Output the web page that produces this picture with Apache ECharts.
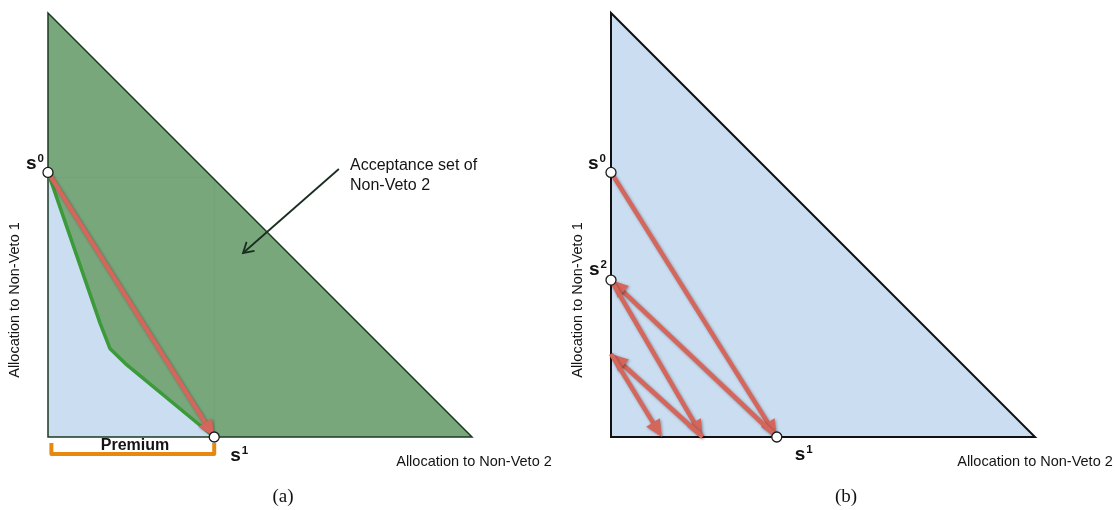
<!DOCTYPE html>
<html>
<head>
<meta charset="utf-8">
<script src="https://cdn.jsdelivr.net/npm/echarts@6/dist/echarts.min.js"></script>
<style>html,body{margin:0;padding:0;background:#fff}#c{width:1115px;height:510px}</style>
</head>
<body>
<div id="c"></div>
<script>
// ---- data (simplex coordinates: x = allocation to Non-Veto 2, y = allocation to Non-Veto 1) ----
const simplex = [[0, 1], [0, 0], [1, 0]];
const greenCurve = [[0, 0.624], [0.123, 0.268], [0.146, 0.209], [0.186, 0.170], [0.392, 0]];
const pointsA = [
  { name: '0', value: [0, 0.624] },
  { name: '1', value: [0.392, 0] }
];
const arrowsA = [[0, 0.624, 0.392, 0]];
const annotArrow = [[0.686, 0.632, 0.460, 0.434]];
const premiumBracket = [[0.008, -0.014], [0.008, -0.040], [0.392, -0.040], [0.392, -0.014]];
const guideA = [[0, 0.612], [0.392, 0.612], [0.392, 0]];
const pointsB = [
  { name: '0', value: [0, 0.624] },
  { name: '2', value: [0, 0.370] },
  { name: '1', value: [0.391, 0] }
];
const pathB = [[0, 0.624], [0.391, 0], [0, 0.370], [0.216, 0], [0, 0.196], [0.120, 0]];
const arrowsB = pathB.slice(1).map((p, i) => [pathB[i][0], pathB[i][1], p[0], p[1]]);

const labelOffsetsA = { '0': [-13, -9], '1': [25, 19] };
const labelOffsetsB = { '0': [-14, -9], '2': [-13, -10], '1': [27, 18] };

const RED = '#d5665c';
const FONT = '"Liberation Sans", Arial, sans-serif';

function polygonSeries(idx, pts, style, z) {
  return {
    type: 'custom', xAxisIndex: idx, yAxisIndex: idx, silent: true, clip: false, z: z,
    data: [pts[0]],
    renderItem: function (params, api) {
      return { type: 'polygon', shape: { points: pts.map(p => api.coord(p)) }, style: style };
    }
  };
}
function polylineSeries(idx, pts, style, z) {
  return {
    type: 'custom', xAxisIndex: idx, yAxisIndex: idx, silent: true, clip: false, z: z,
    data: [pts[0]],
    renderItem: function (params, api) {
      return { type: 'polyline', shape: { points: pts.map(p => api.coord(p)) }, style: style };
    }
  };
}
function arrowSeries(idx, data, opt, z) {
  return {
    type: 'custom', xAxisIndex: idx, yAxisIndex: idx, silent: true, clip: false, z: z,
    data: data,
    encode: { x: [0, 2], y: [1, 3] },
    renderItem: function (params, api) {
      const p1 = api.coord([api.value(0), api.value(1)]);
      const p2 = api.coord([api.value(2), api.value(3)]);
      const dx = p2[0] - p1[0], dy = p2[1] - p1[1];
      const len = Math.sqrt(dx * dx + dy * dy);
      const ux = dx / len, uy = dy / len;
      const nx = -uy, ny = ux;
      const hl = opt.headLen, hw = opt.headWidth;
      const base = [p2[0] - ux * hl, p2[1] - uy * hl];
      const lineEnd = opt.open ? p2 : [p2[0] - ux * hl * 0.6, p2[1] - uy * hl * 0.6];
      const shadow = opt.shadow ? { shadowBlur: 3, shadowColor: 'rgba(0,0,0,0.35)', shadowOffsetX: 1, shadowOffsetY: 1 } : {};
      const children = [{
        type: 'line',
        shape: { x1: p1[0], y1: p1[1], x2: lineEnd[0], y2: lineEnd[1] },
        style: Object.assign({ stroke: opt.color, lineWidth: opt.width }, shadow)
      }];
      if (opt.open) {
        children.push({
          type: 'polyline',
          shape: { points: [[base[0] + nx * hw, base[1] + ny * hw], p2, [base[0] - nx * hw, base[1] - ny * hw]] },
          style: { stroke: opt.color, lineWidth: opt.width, fill: null }
        });
      } else {
        children.push({
          type: 'polygon',
          shape: { points: [[base[0] + nx * hw, base[1] + ny * hw], p2, [base[0] - nx * hw, base[1] - ny * hw]] },
          style: Object.assign({ fill: opt.color }, shadow)
        });
      }
      return { type: 'group', children: children };
    }
  };
}
function pointSeries(idx, data, offsets) {
  return {
    type: 'scatter', xAxisIndex: idx, yAxisIndex: idx, silent: true, z: 20,
    symbol: 'circle', symbolSize: 10,
    itemStyle: { color: '#ffffff', borderColor: '#1a1a1a', borderWidth: 1.3, opacity: 1 },
    data: data.map(d => ({
      name: d.name, value: d.value,
      label: {
        show: true, position: 'inside', offset: offsets[d.name],
        formatter: '{s|s}{sup|' + d.name + '}',
        rich: {
          s: { fontFamily: FONT, fontWeight: 'bold', fontSize: 19, color: '#111', lineHeight: 20 },
          sup: { fontFamily: FONT, fontWeight: 'bold', fontSize: 11.5, color: '#111', lineHeight: 20, padding: [0, 0, 10, 1] }
        }
      }
    }))
  };
}

const axisX = i => ({ type: 'value', gridIndex: i, min: 0, max: 1, show: false });
const axisY = i => ({ type: 'value', gridIndex: i, min: 0, max: 1, show: false });

const textStyle = { fontFamily: FONT, fill: '#141414' };

const option = {
  animation: false,
  backgroundColor: '#ffffff',
  grid: [
    { left: 48, top: 13, width: 424, height: 424 },
    { left: 611, top: 13, width: 424, height: 424 }
  ],
  xAxis: [axisX(0), axisX(1)],
  yAxis: [axisY(0), axisY(1)],
  series: [
    // panel (a)
    polygonSeries(0, simplex, { fill: '#79a77c' }, 1),
    polygonSeries(0, greenCurve.concat([[0, 0]]), { fill: '#cbddf1' }, 2),
    polylineSeries(0, guideA, { stroke: 'rgba(40,70,40,0.05)', lineWidth: 1, fill: null }, 2),
    polygonSeries(0, simplex, { fill: null, stroke: '#1c3a22', lineWidth: 1.5 }, 3),
    polylineSeries(0, greenCurve, { stroke: '#3b9a39', lineWidth: 3.5, fill: null, lineJoin: 'round' }, 4),
    arrowSeries(0, arrowsA, { color: RED, width: 4.5, headLen: 17, headWidth: 8, shadow: true }, 5),
    arrowSeries(0, annotArrow, { color: '#1a2e20', width: 1.8, headLen: 10, headWidth: 6, open: true }, 5),
    polylineSeries(0, premiumBracket, { stroke: '#e8890f', lineWidth: 4, fill: null, lineJoin: 'round' }, 5),
    pointSeries(0, pointsA, labelOffsetsA),
    // panel (b)
    polygonSeries(1, simplex, { fill: '#cbddf1', stroke: '#111111', lineWidth: 2 }, 1),
    arrowSeries(1, arrowsB, { color: RED, width: 4.5, headLen: 17, headWidth: 8, shadow: true }, 5),
    pointSeries(1, pointsB, labelOffsetsB)
  ],
  graphic: [
    { type: 'text', left: 350, top: 156, style: Object.assign({ text: 'Acceptance set of\nNon-Veto 2', fontSize: 16, lineHeight: 20 }, textStyle) },
    { type: 'text', x: 135, y: 446, style: Object.assign({ text: 'Premium', fontSize: 16, fontWeight: 'bold', align: 'center', verticalAlign: 'middle' }, textStyle) },
    { type: 'text', x: 15, y: 300, rotation: Math.PI / 2, style: Object.assign({ text: 'Allocation to Non-Veto 1', fontSize: 14.5, align: 'center', verticalAlign: 'middle' }, textStyle) },
    { type: 'text', x: 474, y: 462, style: Object.assign({ text: 'Allocation to Non-Veto 2', fontSize: 14.5, align: 'center', verticalAlign: 'middle' }, textStyle) },
    { type: 'text', x: 578, y: 300, rotation: Math.PI / 2, style: Object.assign({ text: 'Allocation to Non-Veto 1', fontSize: 14.5, align: 'center', verticalAlign: 'middle' }, textStyle) },
    { type: 'text', x: 1035, y: 462, style: Object.assign({ text: 'Allocation to Non-Veto 2', fontSize: 14.5, align: 'center', verticalAlign: 'middle' }, textStyle) },
    { type: 'text', x: 283, y: 497, style: { text: '(a)', fontSize: 19, fontFamily: '"Liberation Serif", "DejaVu Serif", serif', fill: '#111', align: 'center', verticalAlign: 'middle' } },
    { type: 'text', x: 846, y: 497, style: { text: '(b)', fontSize: 19, fontFamily: '"Liberation Serif", "DejaVu Serif", serif', fill: '#111', align: 'center', verticalAlign: 'middle' } }
  ]
};

const chart = echarts.init(document.getElementById('c'), null, { renderer: 'canvas' });
chart.setOption(option);
</script>
</body>
</html>
